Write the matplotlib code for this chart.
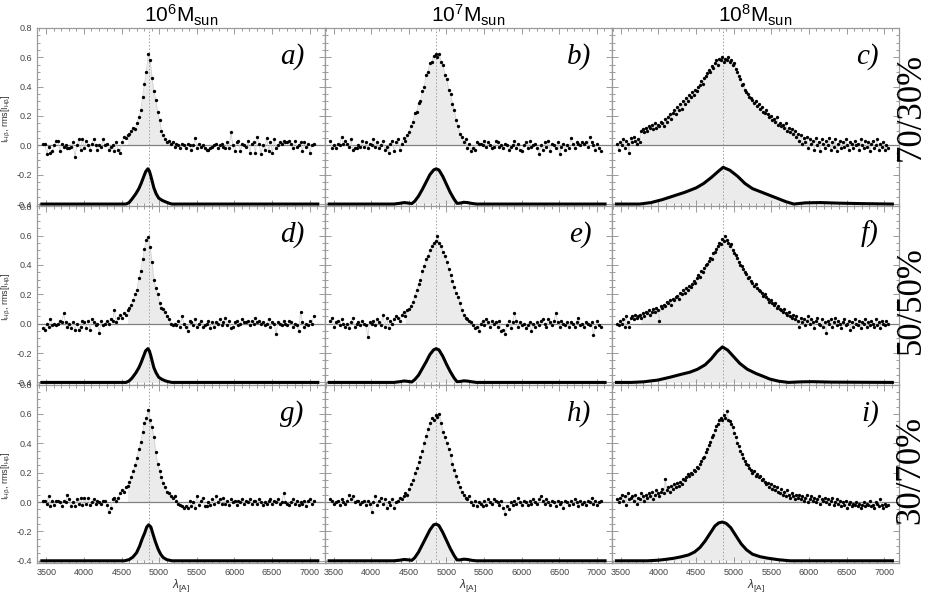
import numpy as np
import matplotlib
matplotlib.use('Agg')
import matplotlib.pyplot as plt
from matplotlib.ticker import MultipleLocator, FixedLocator, FuncFormatter

plt.rcParams['font.family'] = ['Liberation Sans', 'DejaVu Sans']
plt.rcParams['mathtext.fontset'] = 'custom'
plt.rcParams['mathtext.rm'] = 'Liberation Sans'
plt.rcParams['mathtext.it'] = 'Liberation Sans:italic'
plt.rcParams['axes.unicode_minus'] = False

# sampling of the observed points per column: (first wavelength, step) in A
grid_ab = (3455, 25)
grid_c = (3450, 20)

masses = ['6', '7', '8']
ratios = ['70/30%', '50/50%', '30/70%']
letters = [['a)', 'b)', 'c)'], ['d)', 'e)', 'f)'], ['g)', 'h)', 'i)']]
hbeta = 4861
# wavelength window of the shaded line profile, per column
fill_win = [(4560, 5190), (4440, 5290), (3760, 5920)]

# observed points (upper curves)
flux_a = [0.01, 0.01, -0.06, -0.01, -0.05, -0.04, 0.00, 0.03, 0.03, -0.04,
          0.01, -0.01, 0.00, -0.02, -0.02, -0.01, 0.02, -0.08, 0.00, 0.04,
          -0.03, 0.04, -0.02, 0.03, 0.00, -0.03, 0.01, 0.04, 0.00, -0.03,
          0.00, -0.01, 0.04, 0.00, 0.01, -0.03, -0.01, 0.00, -0.04, 0.02,
          -0.03, -0.05, 0.02, 0.06, 0.05, 0.07, 0.08, 0.10, 0.12, 0.11,
          0.15, 0.19, 0.24, 0.33, 0.42, 0.50, 0.62, 0.58, 0.46, 0.37,
          0.31, 0.23, 0.17, 0.10, 0.07, 0.04, 0.02, 0.03, 0.01, 0.02,
          -0.01, 0.01, 0.00, -0.02, 0.01, 0.00, -0.02, 0.01, 0.00, -0.03,
          0.00, 0.05, -0.02, 0.01, -0.01, 0.00, -0.02, -0.03, -0.03, -0.02,
          -0.01, 0.00, 0.01, -0.02, 0.00, 0.01, -0.01, -0.02, 0.02, -0.02,
          0.09, 0.00, -0.04, 0.02, 0.03, -0.04, 0.01, 0.00, -0.01, 0.03,
          -0.05, 0.01, 0.02, -0.05, 0.06, 0.01, -0.06, 0.00, -0.03, 0.05,
          -0.04, 0.02, -0.05, 0.04, -0.02, 0.00, 0.02, 0.01, 0.03, 0.02,
          0.02, 0.03, 0.01, -0.02, 0.03, -0.01, 0.00, 0.02, -0.04, 0.02,
          -0.01, 0.01, -0.05, 0.00, 0.01]
flux_b = [0.03, -0.02, 0.00, -0.02, 0.01, 0.00, 0.06, 0.01, 0.03, 0.01,
          -0.01, 0.04, -0.03, -0.02, -0.02, 0.00, -0.01, 0.03, -0.01, 0.02,
          -0.02, 0.01, 0.00, 0.04, -0.01, 0.02, -0.02, 0.00, 0.03, -0.03,
          -0.01, -0.05, 0.01, 0.03, -0.04, 0.02, 0.04, -0.03, 0.01, 0.05,
          0.03, 0.07, 0.09, 0.13, 0.16, 0.22, 0.23, 0.29, 0.30, 0.37,
          0.40, 0.48, 0.50, 0.56, 0.57, 0.61, 0.62, 0.60, 0.62, 0.57,
          0.55, 0.48, 0.45, 0.38, 0.35, 0.28, 0.24, 0.17, 0.13, 0.08,
          0.06, 0.02, 0.04, -0.02, 0.01, -0.04, -0.02, -0.03, 0.02, 0.01,
          0.01, 0.00, 0.03, -0.01, 0.02, 0.00, -0.02, -0.01, 0.03, 0.02,
          -0.01, 0.00, -0.02, 0.01, 0.00, -0.03, -0.01, 0.00, 0.03, -0.02,
          0.01, -0.03, -0.04, 0.00, 0.02, -0.02, 0.03, -0.01, 0.00, 0.01,
          -0.02, -0.06, 0.00, -0.03, 0.02, -0.01, 0.03, -0.04, 0.01, 0.00,
          -0.02, 0.02, -0.06, -0.01, 0.01, -0.03, 0.00, -0.02, 0.05, 0.01,
          -0.02, 0.02, 0.01, 0.00, 0.02, 0.01, 0.02, -0.01, 0.06, 0.02,
          0.00, -0.03, 0.01, -0.02, -0.04]
flux_c = [0.01, -0.03, 0.02, 0.00, 0.04, -0.02, 0.03, 0.01, -0.05, 0.05,
          0.02, 0.06, 0.03, 0.01, 0.04, 0.02, 0.10, 0.11, 0.09, 0.12,
          0.10, 0.13, 0.12, 0.14, 0.11, 0.15, 0.12, 0.14, 0.13, 0.16,
          0.15, 0.13, 0.18, 0.16, 0.19, 0.21, 0.18, 0.22, 0.24, 0.21,
          0.26, 0.24, 0.28, 0.25, 0.30, 0.28, 0.32, 0.30, 0.34, 0.33,
          0.36, 0.34, 0.38, 0.37, 0.40, 0.41, 0.44, 0.42, 0.46, 0.47,
          0.49, 0.51, 0.50, 0.54, 0.53, 0.56, 0.58, 0.55, 0.59, 0.58,
          0.60, 0.57, 0.59, 0.58, 0.60, 0.57, 0.58, 0.55, 0.56, 0.52,
          0.50, 0.47, 0.45, 0.41, 0.42, 0.38, 0.36, 0.35, 0.33, 0.32,
          0.31, 0.29, 0.30, 0.27, 0.28, 0.25, 0.26, 0.23, 0.22, 0.24,
          0.21, 0.19, 0.20, 0.17, 0.18, 0.16, 0.19, 0.14, 0.15, 0.13,
          0.14, 0.12, 0.15, 0.10, 0.12, 0.09, 0.11, 0.08, 0.10, 0.06,
          0.08, 0.03, 0.07, 0.01, 0.05, 0.02, 0.06, -0.02, 0.04, 0.01,
          0.03, -0.03, 0.05, 0.00, 0.02, -0.04, 0.04, 0.01, -0.02, 0.03,
          0.00, 0.05, -0.03, 0.02, -0.01, 0.04, -0.04, 0.01, 0.03, -0.02,
          0.02, -0.01, 0.04, 0.00, -0.03, 0.02, 0.01, -0.02, 0.03, 0.00,
          0.01, -0.03, 0.04, 0.00, -0.02, 0.03, -0.01, 0.02, -0.04, 0.01,
          0.03, -0.02, 0.00, 0.04, -0.03, 0.01, -0.01, 0.02, -0.03, 0.00,
          -0.02]
flux_d = [-0.03, -0.04, 0.00, -0.02, 0.03, -0.01, 0.00, -0.01, 0.00, 0.02,
          0.01, 0.07, 0.01, -0.02, 0.00, -0.03, 0.01, -0.04, 0.00, -0.04,
          -0.02, 0.02, 0.01, -0.03, 0.02, -0.04, 0.03, 0.01, -0.01, 0.00,
          -0.06, 0.02, -0.01, 0.00, 0.02, 0.00, 0.03, 0.02, 0.09, 0.01,
          0.04, 0.06, 0.04, 0.07, 0.06, 0.09, 0.11, 0.13, 0.16, 0.20,
          0.23, 0.31, 0.36, 0.44, 0.51, 0.57, 0.59, 0.52, 0.42, 0.30,
          0.24, 0.20, 0.14, 0.11, 0.10, 0.08, 0.05, 0.03, 0.00, -0.01,
          0.00, -0.01, 0.02, -0.02, 0.05, 0.00, -0.02, -0.05, 0.02, 0.01,
          -0.01, 0.03, -0.02, 0.00, 0.02, -0.02, -0.01, 0.00, 0.02, -0.03,
          0.01, -0.02, 0.01, 0.00, 0.03, -0.01, 0.01, 0.04, -0.01, 0.02,
          -0.03, -0.02, 0.01, 0.02, -0.01, 0.00, 0.03, 0.01, 0.01, 0.02,
          -0.01, 0.02, 0.00, 0.04, 0.01, 0.02, 0.00, 0.01, -0.01, 0.00,
          0.03, -0.02, 0.01, 0.00, -0.07, 0.01, 0.00, -0.01, 0.02, 0.00,
          -0.01, 0.02, 0.01, -0.02, 0.00, -0.01, -0.05, 0.08, 0.01, -0.02,
          0.00, -0.01, 0.02, 0.00, 0.05]
flux_e = [0.02, 0.04, -0.02, 0.01, 0.02, -0.01, 0.03, 0.00, -0.02, 0.00,
          -0.03, 0.01, 0.04, -0.02, 0.00, 0.01, -0.01, 0.02, 0.00, -0.01,
          -0.09, 0.01, 0.00, 0.02, -0.01, 0.03, 0.01, -0.01, 0.06, -0.02,
          0.04, -0.03, 0.02, 0.00, 0.03, 0.05, 0.04, 0.02, 0.06, 0.08,
          0.05, 0.09, 0.10, 0.12, 0.15, 0.19, 0.23, 0.27, 0.30, 0.36,
          0.39, 0.44, 0.46, 0.50, 0.53, 0.55, 0.56, 0.60, 0.55, 0.53,
          0.49, 0.46, 0.42, 0.37, 0.33, 0.29, 0.25, 0.21, 0.18, 0.14,
          0.09, 0.06, 0.04, 0.03, 0.02, 0.01, -0.01, -0.03, -0.02, -0.05,
          0.00, 0.02, -0.01, 0.03, 0.01, -0.02, 0.02, 0.00, 0.01, -0.02,
          0.02, -0.05, -0.04, -0.07, -0.01, 0.02, -0.03, 0.01, 0.07, 0.02,
          -0.02, 0.01, -0.01, 0.00, -0.03, -0.01, 0.01, -0.05, 0.00, -0.02,
          0.01, -0.01, 0.02, 0.03, 0.00, -0.02, 0.03, 0.01, -0.01, 0.02,
          0.07, 0.01, -0.02, 0.02, 0.00, -0.01, 0.01, -0.02, 0.01, 0.00,
          -0.02, 0.01, 0.04, -0.01, 0.00, -0.02, 0.01, 0.00, -0.01, 0.01,
          -0.08, -0.02, 0.02, -0.01, -0.02]
flux_f = [0.00, -0.01, 0.02, 0.00, 0.03, -0.02, 0.05, 0.01, -0.02, 0.04,
          0.05, 0.03, 0.06, 0.04, 0.05, 0.06, 0.04, 0.07, 0.05, 0.08,
          0.07, 0.09, 0.06, 0.08, 0.10, 0.08, 0.11, 0.09, 0.02, 0.12,
          0.11, 0.13, 0.12, 0.15, 0.14, 0.16, 0.13, 0.17, 0.16, 0.18,
          0.19, 0.17, 0.21, 0.20, 0.23, 0.21, 0.24, 0.23, 0.26, 0.25,
          0.27, 0.29, 0.28, 0.31, 0.33, 0.32, 0.36, 0.35, 0.38, 0.40,
          0.41, 0.43, 0.45, 0.44, 0.48, 0.49, 0.51, 0.53, 0.55, 0.54,
          0.58, 0.56, 0.60, 0.57, 0.55, 0.53, 0.54, 0.50, 0.48, 0.47,
          0.45, 0.42, 0.40, 0.39, 0.37, 0.35, 0.34, 0.31, 0.32, 0.29,
          0.28, 0.26, 0.27, 0.24, 0.23, 0.22, 0.21, 0.19, 0.20, 0.18,
          0.17, 0.15, 0.16, 0.14, 0.13, 0.14, 0.11, 0.12, 0.10, 0.09,
          0.08, 0.10, 0.07, 0.06, 0.08, 0.05, 0.04, 0.06, 0.03, 0.05,
          0.02, -0.02, 0.04, 0.01, 0.03, -0.01, 0.02, 0.05, 0.00, 0.03,
          0.01, -0.03, 0.02, 0.04, 0.00, -0.01, 0.03, -0.02, 0.01, -0.06,
          0.02, 0.00, 0.03, -0.02, 0.01, 0.04, -0.01, 0.02, 0.00, -0.03,
          0.01, 0.03, -0.01, 0.00, 0.02, -0.04, 0.01, -0.02, 0.03, 0.00,
          -0.01, 0.02, -0.03, 0.01, 0.00, 0.03, -0.02, 0.01, -0.01, 0.02,
          0.00, -0.02, 0.03, -0.01, 0.01, -0.03, 0.02, 0.00, -0.01, 0.02,
          0.00]
flux_g = [0.01, 0.01, -0.01, 0.04, -0.03, 0.01, -0.02, 0.01, 0.01, 0.00,
          -0.03, 0.01, 0.00, 0.05, 0.02, -0.03, 0.00, -0.03, 0.02, -0.01,
          0.03, -0.02, 0.03, -0.01, 0.03, -0.02, 0.00, 0.02, -0.01, 0.01,
          0.00, -0.01, 0.01, 0.01, -0.02, -0.07, -0.04, 0.02, 0.03, 0.01,
          0.03, 0.06, 0.08, 0.07, 0.10, 0.11, 0.14, 0.17, 0.21, 0.25,
          0.30, 0.36, 0.41, 0.48, 0.54, 0.57, 0.63, 0.56, 0.51, 0.44,
          0.34, 0.26, 0.21, 0.17, 0.13, 0.10, 0.07, 0.06, 0.04, 0.03,
          0.04, 0.01, -0.01, -0.02, -0.03, -0.04, -0.03, -0.04, 0.01, -0.03,
          0.00, -0.04, 0.04, -0.02, 0.01, 0.03, -0.03, -0.03, 0.00, -0.02,
          0.02, -0.01, 0.04, 0.00, 0.02, -0.01, 0.03, -0.01, 0.01, -0.02,
          0.02, 0.00, 0.01, -0.02, 0.01, 0.00, 0.02, -0.01, 0.01, 0.00,
          0.02, -0.01, 0.01, 0.01, -0.01, 0.02, 0.00, -0.02, 0.00, -0.01,
          0.01, 0.02, -0.01, 0.01, 0.00, 0.02, -0.01, 0.00, 0.06, 0.00,
          -0.01, -0.02, 0.00, 0.02, -0.01, 0.01, -0.02, 0.00, -0.01, 0.01,
          -0.03, 0.01, 0.02, -0.01, 0.01]
flux_h = [0.02, 0.01, -0.01, 0.00, 0.01, -0.02, 0.02, 0.00, -0.01, 0.01,
          0.05, 0.02, 0.04, 0.00, 0.01, 0.01, -0.01, 0.00, 0.01, -0.02,
          0.01, -0.01, -0.07, 0.00, 0.04, -0.02, 0.01, 0.03, -0.01, 0.02,
          -0.04, 0.00, -0.02, 0.02, -0.04, 0.00, 0.01, 0.03, 0.02, 0.04,
          0.06, 0.05, 0.09, 0.12, 0.15, 0.20, 0.23, 0.27, 0.31, 0.35,
          0.40, 0.45, 0.50, 0.54, 0.57, 0.56, 0.59, 0.58, 0.60, 0.54,
          0.48, 0.44, 0.40, 0.36, 0.32, 0.26, 0.22, 0.18, 0.14, 0.10,
          0.07, 0.05, 0.03, 0.02, 0.04, 0.00, -0.02, 0.01, -0.03, 0.00,
          -0.01, -0.03, 0.01, -0.02, 0.02, 0.00, -0.01, 0.02, 0.01, 0.00,
          -0.02, 0.01, -0.04, -0.08, -0.03, -0.05, 0.00, -0.02, 0.01, -0.01,
          0.03, 0.00, -0.02, 0.01, 0.00, -0.02, 0.01, -0.01, 0.02, 0.00,
          -0.01, 0.02, 0.04, 0.01, -0.01, 0.02, 0.00, -0.02, 0.01, 0.00,
          -0.03, 0.01, -0.01, 0.00, -0.04, 0.01, 0.00, -0.02, 0.01, -0.01,
          0.02, 0.00, -0.03, 0.01, -0.01, 0.00, -0.02, 0.01, 0.00, 0.03,
          -0.01, 0.01, -0.02, 0.00, 0.01]
flux_i = [0.02, 0.00, 0.03, 0.05, 0.01, 0.04, -0.02, 0.06, 0.02, 0.03,
          0.04, 0.01, 0.05, -0.01, 0.03, 0.02, 0.06, 0.04, 0.01, 0.05,
          0.03, 0.06, 0.04, 0.07, 0.02, 0.05, 0.08, 0.06, 0.04, 0.07,
          0.09, 0.06, 0.16, 0.08, 0.10, 0.07, 0.11, 0.09, 0.12, 0.10,
          0.13, 0.11, 0.14, 0.12, 0.16, 0.15, 0.17, 0.19, 0.18, 0.20,
          0.19, 0.22, 0.21, 0.24, 0.23, 0.26, 0.28, 0.30, 0.31, 0.34,
          0.36, 0.39, 0.41, 0.44, 0.46, 0.49, 0.52, 0.53, 0.56, 0.57,
          0.56, 0.59, 0.57, 0.62, 0.56, 0.55, 0.53, 0.51, 0.47, 0.44,
          0.40, 0.38, 0.35, 0.33, 0.30, 0.28, 0.26, 0.25, 0.23, 0.22,
          0.20, 0.21, 0.18, 0.19, 0.17, 0.18, 0.15, 0.16, 0.14, 0.12,
          0.13, 0.10, 0.12, 0.09, 0.11, 0.08, 0.10, 0.07, 0.06, 0.09,
          0.05, 0.07, 0.04, 0.08, 0.05, 0.03, 0.06, 0.04, 0.02, 0.05,
          0.03, 0.05, 0.02, 0.04, 0.01, 0.03, 0.05, 0.00, 0.02, 0.04,
          0.01, 0.03, 0.00, 0.02, 0.04, -0.01, 0.02, 0.01, 0.03, 0.00,
          0.02, -0.01, 0.01, 0.03, -0.02, 0.00, 0.02, -0.01, 0.01, -0.03,
          0.00, -0.02, 0.01, -0.04, -0.01, 0.00, -0.03, -0.01, -0.02, 0.00,
          -0.03, -0.01, -0.04, -0.02, 0.00, -0.03, -0.01, -0.02, 0.01, -0.03,
          -0.02, -0.04, 0.00, -0.01, -0.03, 0.02, -0.02, -0.04, -0.01, -0.03,
          -0.02]

# lower curves: wavelength knots and height above the -0.4 baseline
tf_base = -0.4
tf_a_x = [3440, 4560, 4600, 4640, 4690, 4730, 4760, 4790, 4820, 4850, 4870,
          4890, 4910, 4930, 4960, 4995, 5040, 5085, 5130, 5170, 7110]
tf_a = [0, 0, 0.01, 0.035, 0.07, 0.105, 0.14, 0.18, 0.22, 0.24, 0.225,
        0.19, 0.15, 0.11, 0.07, 0.04, 0.025, 0.015, 0.006, 0, 0]
tf_d = [0, 0, 0.01, 0.03, 0.065, 0.10, 0.135, 0.175, 0.215, 0.23, 0.215,
        0.18, 0.14, 0.10, 0.065, 0.035, 0.02, 0.01, 0.004, 0, 0]
tf_g_x = [3440, 4540, 4600, 4650, 4700, 4740, 4775, 4808, 4835, 4861, 4890,
          4919, 4950, 4986, 5020, 5053, 5100, 5170, 7110]
tf_g = [0, 0, 0.008, 0.025, 0.055, 0.10, 0.15, 0.19, 0.23, 0.245, 0.23,
        0.18, 0.13, 0.08, 0.045, 0.023, 0.008, 0, 0]
tf_b_x = [3440, 4300, 4380, 4440, 4500, 4540, 4580, 4630, 4680, 4730, 4780,
          4830, 4863, 4900, 4950, 5000, 5050, 5100, 5140, 5180, 5230, 5280,
          5340, 5400, 7110]
tf_b = [0, 0, 0.005, 0.01, 0.006, 0.003, 0.02, 0.055, 0.10, 0.15, 0.20,
        0.232, 0.24, 0.232, 0.19, 0.135, 0.08, 0.035, 0.005, 0.006, 0.012,
        0.01, 0.004, 0, 0]
tf_e = [0, 0, 0.005, 0.01, 0.006, 0.003, 0.02, 0.05, 0.095, 0.14, 0.19,
        0.222, 0.23, 0.222, 0.18, 0.125, 0.075, 0.032, 0.005, 0.006, 0.011,
        0.009, 0.004, 0, 0]
tf_h = [0, 0, 0.004, 0.009, 0.006, 0.003, 0.022, 0.06, 0.11, 0.16, 0.21,
        0.245, 0.25, 0.24, 0.195, 0.14, 0.085, 0.038, 0.006, 0.006, 0.011,
        0.009, 0.003, 0, 0]
tf_c_x = [3440, 3750, 3900, 4050, 4200, 4350, 4500, 4600, 4700, 4800, 4860,
          4950, 5050, 5150, 5250, 5400, 5550, 5700, 5800, 5950, 6150, 6400,
          6700, 7110]
tf_c = [0, 0, 0.01, 0.03, 0.055, 0.08, 0.11, 0.14, 0.18, 0.225, 0.25,
        0.23, 0.19, 0.14, 0.105, 0.075, 0.045, 0.015, 0.0, 0.008, 0.01, 0.006,
        0.003, 0.0]
tf_f_x = [3440, 3640, 3800, 3990, 4150, 4300, 4420, 4520, 4620, 4700, 4780,
          4850, 4920, 5000, 5080, 5180, 5300, 5400, 5480, 5600, 5730, 5900,
          6050, 6300, 7110]
tf_f = [0, 0, 0.004, 0.016, 0.035, 0.055, 0.07, 0.09, 0.12, 0.16, 0.21,
        0.242, 0.22, 0.175, 0.13, 0.09, 0.06, 0.04, 0.023, 0.008, 0.0, 0.004,
        0.005, 0.002, 0.0]
tf_i_x = [3440, 3850, 4000, 4100, 4200, 4300, 4400, 4480, 4550, 4620, 4690,
          4750, 4800, 4850, 4900, 4960, 5030, 5100, 5170, 5250, 5350, 5450,
          5600, 5750, 7110]
tf_i = [0, 0, 0.004, 0.01, 0.017, 0.027, 0.04, 0.06, 0.09, 0.135, 0.19,
        0.237, 0.258, 0.264, 0.255, 0.226, 0.17, 0.115, 0.075, 0.045, 0.028,
        0.018, 0.007, 0, 0]

flux = [[flux_a, flux_b, flux_c], [flux_d, flux_e, flux_f], [flux_g, flux_h, flux_i]]
tfs = [[(tf_a_x, tf_a), (tf_b_x, tf_b), (tf_c_x, tf_c)],
       [(tf_a_x, tf_d), (tf_b_x, tf_e), (tf_f_x, tf_f)],
       [(tf_g_x, tf_g), (tf_b_x, tf_h), (tf_i_x, tf_i)]]
grids = [grid_ab, grid_ab, grid_c]
row_label_y = [0.820, 0.494, 0.207]

fill_col = '#ebebeb'

fig, axes = plt.subplots(3, 3, figsize=(9.26, 5.93), dpi=100, sharex=True, sharey=True)
fig.subplots_adjust(left=0.0403, right=0.971, top=0.953, bottom=0.0506,
                    hspace=0, wspace=0)

for r in range(3):
    for c in range(3):
        ax = axes[r, c]
        x0, dx = grids[c]
        y = np.array(flux[r][c])
        x = x0 + dx * np.arange(len(y))
        lo, hi = fill_win[c]
        ax.fill_between(x, 0, y, where=(x >= lo) & (x <= hi), color=fill_col, lw=0)

        tx, th = tfs[r][c]
        ty = tf_base + np.array(th)
        ax.fill_between(tx, tf_base, ty, color=fill_col, lw=0)

        ax.axhline(0, color='#808080', lw=0.9, zorder=2)
        ax.axvline(hbeta, color='#a0a0a0', lw=0.7, ls=(0, (1.5, 2)), zorder=2)

        ax.plot(x, y, color='#d2d2d2', lw=0.6, zorder=3)
        ax.plot(x, y, 'o', ms=2.4, color='k', mew=0, zorder=4)
        ax.plot(tx, ty, color='k', lw=2.2, zorder=4)

        ax.set_xlim(3380, 7200)
        ax.set_ylim(-0.415, 0.8)
        ax.xaxis.set_major_locator(MultipleLocator(500))
        ax.xaxis.set_minor_locator(MultipleLocator(100))
        ax.yaxis.set_major_locator(FixedLocator([-0.4, -0.2, 0.0, 0.2, 0.4, 0.6, 0.8]))
        ax.yaxis.set_minor_locator(MultipleLocator(0.05))
        ax.yaxis.set_major_formatter(FuncFormatter(lambda v, p: '%.1f' % (v + 0.0)))
        ax.tick_params(which='both', direction='in', top=True, right=True,
                       colors='#8a8a8a', labelcolor='#444444', labelsize=6.5, width=0.6)
        ax.tick_params(which='major', length=4)
        ax.tick_params(which='minor', length=2)
        for s in ax.spines.values():
            s.set_color('#9a9a9a')
            s.set_linewidth(0.9)

        ax.text(0.93, 0.84, letters[r][c], transform=ax.transAxes, ha='right',
                va='center', fontsize=21, family='Liberation Serif', style='italic')

        if r == 0:
            ax.set_title(r'$10^{%s}\mathrm{M_{sun}}$' % masses[c], fontsize=15, pad=4)
        if c == 0:
            ax.set_ylabel(r'$\overline{\mathrm{I}}_{\mathrm{H\beta}}$, rms[I$_{\mathrm{H\beta}}$]',
                          fontsize=6.5, color='#333333')
            ax.yaxis.set_label_coords(-0.085, 0.49)
        if r == 2:
            ax.set_xlabel(r'$\lambda_{\mathrm{[A]}}$', fontsize=8.5, labelpad=0, color='#333333')

for r in range(3):
    fig.text(0.984, row_label_y[r], ratios[r], rotation=90, family='Liberation Serif',
             fontsize=25, ha='center', va='center')

fig.savefig('out.png', dpi=100)
